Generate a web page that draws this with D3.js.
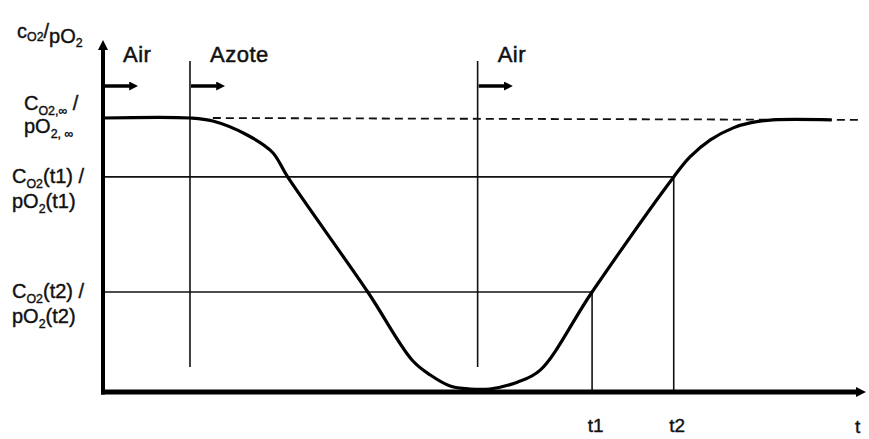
<!DOCTYPE html>
<html>
<head>
<meta charset="utf-8">
<script src="https://cdn.jsdelivr.net/npm/d3@7"></script>
<style>
  body { margin: 0; background: #fff; }
  svg { display: block; }
  text { font-family: "Liberation Sans", Arial, sans-serif; fill: #111; }
</style>
</head>
<body>
<div id="chart"></div>
<script>
// curve (time in arbitrary units, concentration as fraction of c_inf)
const times  = [0, 114, 144, 189, 222, 242, 347, 405, 429, 455, 481, 507, 543, 573, 641, 748, 769, 796, 826, 848, 878, 955];
const values = [1, 1, 0.989, 0.938, 0.875, 0.785, 0.365, 0.117, 0.062, 0.022, 0.011, 0.011, 0.036, 0.080, 0.365, 0.785, 0.857, 0.920, 0.964, 0.982, 0.993, 0.993];

const dashTimes  = [144, 990];
const dashValues = [1, 0.993];

const gasTimes  = [0, 114, 491];
const gasLabels = ["Air", "Azote", "Air"];
const switchTimes = [114, 491];

const markTimes  = [641, 748];
const markLabels = ["t1", "t2"];
const markValues = [0.365, 0.785];   // value at t1 and t2

const width = 869, height = 439;

const x = d3.scaleLinear().domain([0, 1000]).range([103, 866]);
const y = d3.scaleLinear().domain([0, 1]).range([392, 118]);

const svg = d3.select("#chart").append("svg")
  .attr("width", width).attr("height", height);

const defs = svg.append("defs");
defs.append("marker")
  .attr("id", "head")
  .attr("viewBox", "0 0 10 10")
  .attr("refX", 2).attr("refY", 5)
  .attr("markerWidth", 10).attr("markerHeight", 10)
  .attr("markerUnits", "userSpaceOnUse")
  .attr("orient", "auto")
  .append("path").attr("d", "M0,0L10,5L0,10Z").attr("fill", "#000");
defs.append("marker")
  .attr("id", "small")
  .attr("viewBox", "0 0 10 10")
  .attr("refX", 2).attr("refY", 5)
  .attr("markerWidth", 9).attr("markerHeight", 9)
  .attr("markerUnits", "userSpaceOnUse")
  .attr("orient", "auto")
  .append("path").attr("d", "M0,0L10,5L0,10Z").attr("fill", "#000");

// horizontal level lines to the y axis
svg.selectAll(".level").data(markTimes).enter().append("line")
  .attr("x1", x(0)).attr("x2", d => x(d))
  .attr("y1", (d, i) => y(markValues[i])).attr("y2", (d, i) => y(markValues[i]))
  .attr("stroke", "#111").attr("stroke-width", 1.6);

// vertical drops at t1, t2
svg.selectAll(".drop").data(markTimes).enter().append("line")
  .attr("x1", d => x(d)).attr("x2", d => x(d))
  .attr("y1", (d, i) => y(markValues[i])).attr("y2", y(0))
  .attr("stroke", "#111").attr("stroke-width", 1.6);

// gas switch lines
svg.selectAll(".switch").data(switchTimes).enter().append("line")
  .attr("x1", d => x(d)).attr("x2", d => x(d))
  .attr("y1", 61).attr("y2", 367)
  .attr("stroke", "#111").attr("stroke-width", 1.6);

// dashed asymptote
svg.append("line")
  .attr("x1", x(dashTimes[0])).attr("x2", x(dashTimes[1]))
  .attr("y1", y(dashValues[0])).attr("y2", y(dashValues[1]))
  .attr("stroke", "#111").attr("stroke-width", 1.8)
  .attr("stroke-dasharray", "8,5");

// the curve
const line = d3.line().x(d => x(d[0])).y(d => y(d[1])).curve(d3.curveCatmullRom.alpha(0.5));
svg.append("path")
  .datum(times.map((t, i) => [t, values[i]]))
  .attr("d", line)
  .attr("fill", "none").attr("stroke", "#000").attr("stroke-width", 3.2);

// axes
svg.append("line")
  .attr("x1", x(0)).attr("x2", x(0))
  .attr("y1", y(0) + 2.5).attr("y2", 48)
  .attr("stroke", "#000").attr("stroke-width", 4)
  .attr("marker-end", "url(#head)");

const xAxis = d3.axisBottom(x).tickValues(markTimes).tickSize(0).tickPadding(27)
  .tickFormat((d, i) => markLabels[i]);
const gx = svg.append("g").attr("transform", `translate(0,${y(0)})`).call(xAxis);
gx.select(".domain").remove();
gx.selectAll("text").attr("font-size", 19).attr("fill", "#111")
  .attr("font-family", "Liberation Sans, Arial, sans-serif")
  .attr("stroke", "#111").attr("stroke-width", 0.4)
  .attr("dx", "3");

svg.append("line")
  .attr("x1", x(0) - 2).attr("x2", 858)
  .attr("y1", y(0)).attr("y2", y(0))
  .attr("stroke", "#000").attr("stroke-width", 5)
  .attr("marker-end", "url(#head)");

svg.append("text").attr("x", 855).attr("y", 433)
  .attr("font-size", 19).attr("stroke", "#111").attr("stroke-width", 0.4).text("t");

// gas arrows and labels
svg.selectAll(".garrow").data(gasTimes).enter().append("line")
  .attr("x1", d => x(d) + 1).attr("x2", d => x(d) + 28)
  .attr("y1", 86).attr("y2", 86)
  .attr("stroke", "#000").attr("stroke-width", 3.5)
  .attr("marker-end", "url(#small)");

svg.selectAll(".glabel").data(gasTimes).enter().append("text")
  .attr("x", d => x(d) + 20).attr("y", 62)
  .attr("font-size", 22).attr("letter-spacing", 0.5)
  .attr("stroke", "#111").attr("stroke-width", 0.5)
  .text((d, i) => gasLabels[i]);

// y labels
function label(g, parts, px, py, size) {
  const t = g.append("text").attr("x", px).attr("y", py)
    .attr("font-size", size).attr("stroke", "#111").attr("stroke-width", 0.4);
  parts.forEach(p => {
    t.append("tspan")
      .attr("font-size", p.sub ? size * 0.62 : size)
      .attr("dy", p.dy || 0)
      .text(p.s);
  });
  return t;
}

const lab = svg.append("g");
label(lab, [{s: "c"}, {s: "O2", sub: true, dy: 3}, {s: "/", dy: -3}, {s: "pO", dy: 5}, {s: "2", sub: true, dy: 4}], 17, 38, 20);
label(lab, [{s: "C"}, {s: "O2,\u221e", sub: true, dy: 5}, {s: " /", dy: -5}], 24, 110, 20);
label(lab, [{s: "pO"}, {s: "2, \u221e", sub: true, dy: 5}], 24, 133, 20);
label(lab, [{s: "C"}, {s: "O2", sub: true, dy: 5}, {s: "(t1) /", dy: -5}], 12, 183, 20);
label(lab, [{s: "pO"}, {s: "2", sub: true, dy: 5}, {s: "(t1)", dy: -5}], 12, 208, 20);
label(lab, [{s: "C"}, {s: "O2", sub: true, dy: 5}, {s: "(t2) /", dy: -5}], 12, 298, 20);
label(lab, [{s: "pO"}, {s: "2", sub: true, dy: 5}, {s: "(t2)", dy: -5}], 12, 323, 20);
</script>
</body>
</html>
